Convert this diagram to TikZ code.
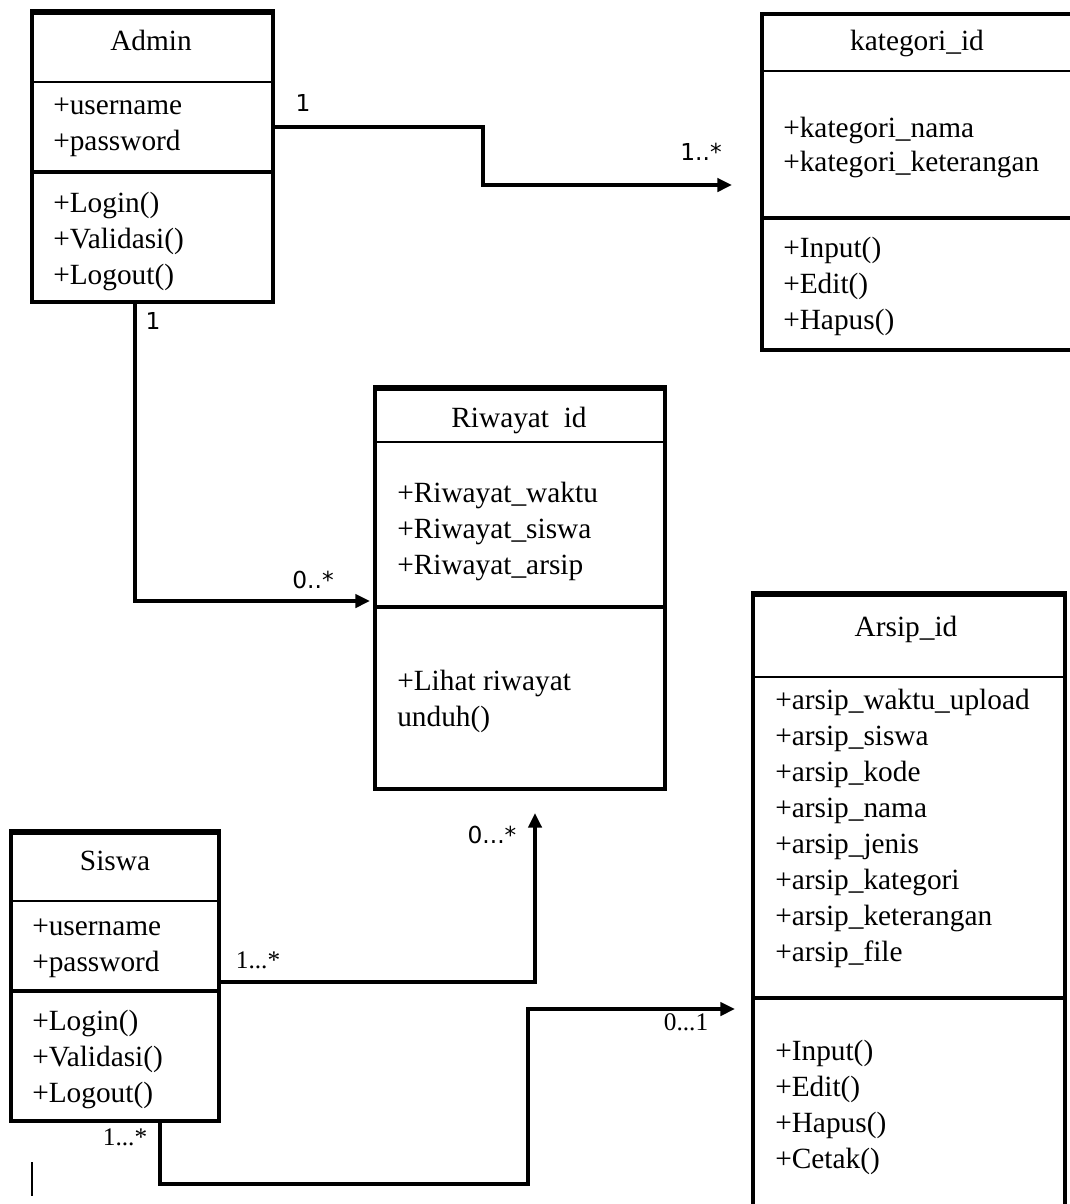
\documentclass[tikz,border=0pt]{standalone}
\usepackage{fontspec}
\setmainfont{Liberation Serif}
\newfontfamily\lblsans{DejaVu Sans}
\usetikzlibrary{arrows.meta,fit}
\begin{document}
\begin{tikzpicture}[x=0.75pt,y=-0.75pt,
  box/.style={draw, line width=2.8pt, inner sep=0pt},
  sep/.style={line width=1.4pt},
  septhick/.style={line width=2.6pt},
  row/.style={anchor=base west, inner sep=0pt, font=\fontsize{22}{26}\selectfont},
  title/.style={anchor=base, inner sep=0pt, font=\fontsize{22}{26}\selectfont},
  link/.style={line width=2.6pt},
  linkarrow/.style={link, -{Triangle[length=11pt,width=10pt]}},
  mult/.style={inner sep=0pt, font=\lblsans\fontsize{17.5}{19}\selectfont},
  multserif/.style={inner sep=0pt, font=\fontsize{19}{21}\selectfont}]
\clip (0,0) rectangle (1070,1204);

% ---------- Admin ----------
\node[box, fit={(32,11) (273,302)}] (admin) {};
\draw[line width=4pt] (30,12) -- (275,12);
\draw[sep] (32,82) -- (273,82);
\draw[septhick] (32,172) -- (273,172);
\node[title] (admin-t) at (151,50) {Admin};
\foreach \t [count=\i] in {+username,+password}
  \node[row] (admin-a\i) at (53,114+36*\i-36) {\t};
\foreach \t [count=\i] in {+Login(),+Validasi(),+Logout()}
  \node[row] (admin-o\i) at (53,212+36*\i-36) {\t};

% ---------- kategori_id ----------
\node[box, fit={(762,14) (1076,350)}] (kat) {};
\draw[sep] (762,71) -- (1076,71);
\draw[septhick] (762,218) -- (1076,218);
\node[title] (kat-t) at (917,50) {kategori\_id};
\foreach \t [count=\i] in {+kategori\_nama,+kategori\_keterangan}
  \node[row] (kat-a\i) at (783,137+34*\i-34) {\t};
\foreach \t [count=\i] in {+Input(),+Edit(),+Hapus()}
  \node[row] (kat-o\i) at (783,257+36*\i-36) {\t};

% ---------- Riwayat_id ----------
\node[box, fit={(375,387) (665,789)}] (riw) {};
\draw[line width=4pt] (373,388) -- (667,388);
\draw[sep] (375,442) -- (665,442);
\draw[septhick] (375,607) -- (665,607);
\node[title] (riw-t) at (519,427) {Riwayat\ \ id};
\foreach \t [count=\i] in {+Riwayat\_waktu,+Riwayat\_siswa,+Riwayat\_arsip}
  \node[row] (riw-a\i) at (397,502+36*\i-36) {\t};
\node[row] (riw-o1) at (397,690) {+Lihat riwayat};
\node[row] (riw-o2) at (397,726) {unduh()};

% ---------- Siswa ----------
\node[box, fit={(11,831) (219,1121)}] (siswa) {};
\draw[line width=4pt] (9,832) -- (221,832);
\draw[sep] (11,901) -- (219,901);
\draw[septhick] (11,991) -- (219,991);
\node[title] (siswa-t) at (115,870) {Siswa};
\foreach \t [count=\i] in {+username,+password}
  \node[row] (siswa-a\i) at (32,935+36*\i-36) {\t};
\foreach \t [count=\i] in {+Login(),+Validasi(),+Logout()}
  \node[row] (siswa-o\i) at (32,1030+36*\i-36) {\t};

% ---------- Arsip_id ----------
\node[box, fit={(753,593) (1065,1215)}] (arsip) {};
\draw[line width=4pt] (751,594) -- (1067,594);
\draw[sep] (753,677) -- (1065,677);
\draw[septhick] (753,998) -- (1065,998);
\node[title] (arsip-t) at (906,636) {Arsip\_id};
\foreach \t [count=\i] in {+arsip\_waktu\_upload,+arsip\_siswa,+arsip\_kode,+arsip\_nama,
    +arsip\_jenis,+arsip\_kategori,+arsip\_keterangan,+arsip\_file}
  \node[row] (arsip-a\i) at (775,709+36*\i-36) {\t};
\foreach \t [count=\i] in {+Input(),+Edit(),+Hapus(),+Cetak()}
  \node[row] (arsip-o\i) at (775,1060+36*\i-36) {\t};

% ---------- associations ----------
\coordinate (kat-in) at (732,185);
\coordinate (riw-in) at (370,601);
\coordinate (riw-up) at (535,813);
\coordinate (arsip-in) at (735,1009);

\draw[linkarrow] (admin.east |- 0,127) -- (483,127) -- (483,185) -- (kat-in);
\draw[linkarrow] (135,0 |- admin.south) -- (135,601) -- (riw-in);
\draw[linkarrow] (siswa.east |- 0,982) -- (535,982) -- (riw-up);
\draw[linkarrow] (160,0 |- siswa.south) -- (160,1184) -- (528,1184) -- (528,1009) -- (arsip-in);

% multiplicities
\node[mult] (m1) at (303,103) {1};
\node[mult] (m2) at (701,152) {1..*};
\node[mult] (m3) at (153,321) {1};
\node[mult] (m4) at (313,580) {0..*};
\node[mult] (m5) at (492,835) {0...*};
\node[multserif] (m6) at (258,960) {1...*};
\node[multserif] (m7) at (125,1137) {1...*};
\node[multserif] (m8) at (686,1022) {0...1};

% text cursor mark
\draw[line width=1pt] (32,1162) -- (32,1196);
\end{tikzpicture}
\end{document}
